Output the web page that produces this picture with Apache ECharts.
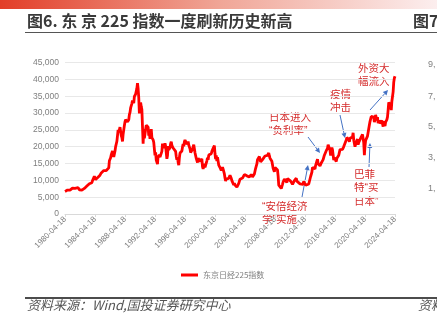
<!DOCTYPE html>
<html><head><meta charset="utf-8">
<script src="https://cdn.jsdelivr.net/npm/echarts@6/dist/echarts.min.js"></script>
<style>html,body{margin:0;padding:0;background:#fff}#c{width:437px;height:325px}</style>
</head><body><div id="c"></div>
<script>
// Monthly Nikkei 225 values, starting 1980-04
const startYear = 1980, startMonth = 4;
const nikkei = [
  6700,6800,6900,6900,7100,7000,7200,7400,7100,
  7300,7400,7600,7700,7600,7900,7800,7600,7200,7800,7600,7680,
  7800,7500,7200,7300,7400,7200,7100,7000,7100,7000,7600,8020,
  8000,8100,8300,8500,8600,8800,9000,9100,9200,9100,9300,9900,
  10200,10400,11200,11000,10200,10500,10300,10800,10800,11000,11300,11540,
  11900,12200,12600,12500,12700,12900,12400,12600,12700,12900,12900,13110,
  13000,13700,15800,15800,16700,17600,17500,18700,17900,16900,17850,18700,
  20000,20800,21600,23300,25000,24200,24500,25800,26000,23300,22700,21560,
  23700,25000,26300,27400,28000,27800,28000,27400,27900,28000,29500,30160,
  31500,31900,32800,33700,34200,32900,34900,34400,35600,35500,37300,38900,
  37200,34600,29900,29600,33100,31900,31000,25900,20900,25200,22500,23850,
  23300,26400,26300,26100,25800,23300,24100,22300,23900,25200,22700,22980,
  22000,21300,19300,17400,18300,16000,15900,14800,17400,16800,17700,16900,
  16800,17000,18600,20900,20600,19600,20400,21000,20100,19700,16400,17400,
  20200,19100,19100,19700,20900,21500,20400,20600,19600,19900,19100,19700,
  18600,17100,16100,16800,15400,14500,16700,18100,17900,17650,18700,19870,
  20800,20100,21400,22000,21700,22500,20700,20200,21500,20500,21000,19360,
  18300,18600,18000,19200,20000,20600,20300,18200,17900,16500,16600,15260,
  16600,16800,16500,15600,15700,15800,16400,14100,13400,13600,14900,13840,
  14000,14400,15800,16700,16100,17500,17900,17400,17600,17900,18600,18930,
  19500,19900,20300,17900,16300,17400,15700,16900,15700,14500,14600,13790,
  13800,12900,13000,13900,13300,12900,11900,10700,9800,10400,10700,10540,
  9900,10600,11000,11500,11800,10600,9900,9600,9400,8600,9200,8580,
  8300,8400,7970,7830,8420,9080,9560,10340,10220,10560,10100,10680,
  10780,11040,11720,11760,11240,11860,11330,11080,10820,10770,11000,11490,
  11390,11740,11670,11010,11280,11580,11900,12410,13570,13610,14870,16110,
  16650,16200,17060,16910,15470,15500,15460,16140,16130,16400,16270,17230,
  17380,17600,17290,17400,17880,18140,17250,16570,16790,16740,15680,15310,
  13590,13600,12530,13850,14340,13480,13380,13070,11260,8580,8510,8860,
  7990,7570,8110,8830,9520,9960,10360,10490,10130,10030,9350,10550,
  10200,10130,11090,11060,9770,9380,9540,8820,9370,9200,9940,10230,
  10240,10620,9760,9850,9690,9820,9830,8960,8700,8990,8430,8450,
  8800,9720,10080,9520,8540,9010,8700,8840,8870,8930,9450,10400,
  11140,11560,12400,13860,13770,13680,13670,13390,14460,14330,15660,16290,
  14910,14840,14830,14300,14630,15160,15620,15420,16170,16410,17460,17450,
  17670,18800,19210,19520,20560,20240,20590,18890,17390,19080,19750,19030,
  17520,16030,16760,16670,17230,15580,16570,16890,16450,17430,18310,19110,
  19040,19120,18910,19200,19650,20030,19930,19650,20360,22010,22720,22760,
  23100,22070,21450,22470,22200,22300,22550,22870,24120,21920,22350,20010,
  20770,21390,21210,22260,20600,21280,21520,20700,21760,22930,23290,23660,
  23210,21140,17500,20190,21880,22290,21710,23140,23190,22980,26430,27440,
  27660,28970,29180,28810,28860,28790,27280,28090,29450,28890,27820,28790,
  27000,26530,27820,26850,27280,26390,27800,28090,25940,27590,27970,26090,
  27330,27450,28040,28860,30890,33190,33170,32620,31860,30860,33490,33460,
  36290,39170,40370,40900
];
const seriesName = '东京日经225指数';
const yTicks = [0,5000,10000,15000,20000,25000,30000,35000,40000,45000];
const tickLabels = ['1980-04-18','1984-04-18','1988-04-18','1992-04-18','1996-04-18','2000-04-18','2004-04-18','2008-04-18','2012-04-18','2016-04-18','2020-04-18','2024-04-18'];
const titleText = '图6. 东 京 225 指数一度刷新历史新高';
const sourceText = '资料来源：Wind,国投证券研究中心';
const annotations = [
  {text:'外资大\n幅流入', x:358, y:62},
  {text:'疫情\n冲击', x:330, y:88},
  {text:'日本进入\n“负利率”', x:269, y:111},
  {text:'巴菲\n特“买\n日本”', x:354, y:168},
  {text:'“安倍经济\n学”实施', x:262, y:200}
];
const arrows = [
  [302,197,308,165],
  [308,137,320,153],
  [340,115,345,138],
  [369,167,370,143],
  [370,110,388,90]
];

const categories = [];
for (let i = 0; i < nikkei.length; i++) {
  const m = (startMonth - 1 + i) % 12 + 1;
  const y = startYear + Math.floor((startMonth - 1 + i) / 12);
  categories.push(y + '-' + String(m).padStart(2,'0') + '-18');
}

function arrowGraphic(a) {
  const [x1,y1,x2,y2] = a;
  const ang = Math.atan2(y2-y1, x2-x1);
  const L = 5, W = 2.5;
  const bx = x2 - L*Math.cos(ang), by = y2 - L*Math.sin(ang);
  const px = -Math.sin(ang)*W, py = Math.cos(ang)*W;
  return [
    {type:'line', shape:{x1,y1,x2:bx,y2:by}, style:{stroke:'#4472C4', lineWidth:1}, silent:true},
    {type:'polygon', shape:{points:[[x2,y2],[bx+px,by+py],[bx-px,by-py]]}, style:{fill:'#4472C4'}, silent:true}
  ];
}

const cjk = '"Liberation Sans", "Noto Sans CJK SC"';
const graphics = [
  {type:'rect', shape:{x:0,y:0,width:437,height:9}, style:{fill:new echarts.graphic.LinearGradient(0,0,1,0,[{offset:0,color:'#E23E28'},{offset:0.5,color:'#F0A596'},{offset:1,color:'#FCEEEE'}])}},
  {type:'text', left:27, top:13, style:{text:titleText, font:'bold 16px "Noto Sans CJK SC"', fill:'#3a3a3a'}},
  {type:'text', left:413, top:13, style:{text:'图7', font:'bold 16px "Noto Sans CJK SC"', fill:'#3a3a3a'}},
  {type:'line', shape:{x1:25,y1:32.5,x2:437,y2:32.5}, style:{stroke:'#555', lineWidth:1}},
  {type:'line', shape:{x1:25,y1:298,x2:437,y2:298}, style:{stroke:'#111', lineWidth:1.5}},
  {type:'text', left:27, top:299, style:{text:sourceText, font:'italic 13px "Noto Sans CJK SC"', fill:'#555'}},
  {type:'text', left:418, top:299, style:{text:'资料', font:'italic 13px "Noto Sans CJK SC"', fill:'#555'}}
];
['9,','7,','5,','3,','1,'].forEach((t,i)=>{
  graphics.push({type:'text', left:428, top:[60,92,122,153,184][i], style:{text:t, font:'9px "Liberation Sans"', fill:'#7f7f7f'}});
});
annotations.forEach(a=>{
  graphics.push({type:'text', left:a.x, top:a.y, style:{text:a.text, font:'10.5px ' + cjk, fill:'#D42B2B', lineHeight:13.5}});
});
arrows.forEach(a=>{ graphics.push(...arrowGraphic(a)); });

const chart = echarts.init(document.getElementById('c'), null, {renderer:'canvas'});
chart.setOption({
  animation:false,
  grid:{left:65, right:42, top:62.5, bottom:111, containLabel:false},
  legend:{data:[seriesName], left:176, top:266, itemWidth:17, itemHeight:3, icon:'rect', itemGap:4,
    textStyle:{fontSize:8, color:'#7f7f7f', fontFamily:'Noto Sans CJK SC'}},
  xAxis:{type:'category', data:categories, boundaryGap:false,
    axisLine:{lineStyle:{color:'#d9d9d9'}},
    axisTick:{show:true, interval:47, length:3, lineStyle:{color:'#d9d9d9'}},
    axisLabel:{interval:47, rotate:45, fontSize:8, color:'#7f7f7f', margin:4, fontFamily:'Liberation Sans',
      formatter:(v,idx)=>tickLabels[Math.round(idx/48)] || v}},
  yAxis:{type:'value', min:yTicks[0], max:yTicks[yTicks.length-1], interval:5000,
    axisLine:{show:false}, axisTick:{show:false},
    splitLine:{lineStyle:{color:'#e8e8e8', width:1}},
    axisLabel:{fontSize:8.5, color:'#7f7f7f', margin:6, fontFamily:'Liberation Sans',
      formatter:v=>v.toLocaleString('en-US')}},
  series:[{name:seriesName, type:'line', data:nikkei, showSymbol:false, symbol:'none',
    lineStyle:{color:'#FF0000', width:2.8}, itemStyle:{color:'#FF0000'}}],
  graphic:graphics
});
</script></body></html>
